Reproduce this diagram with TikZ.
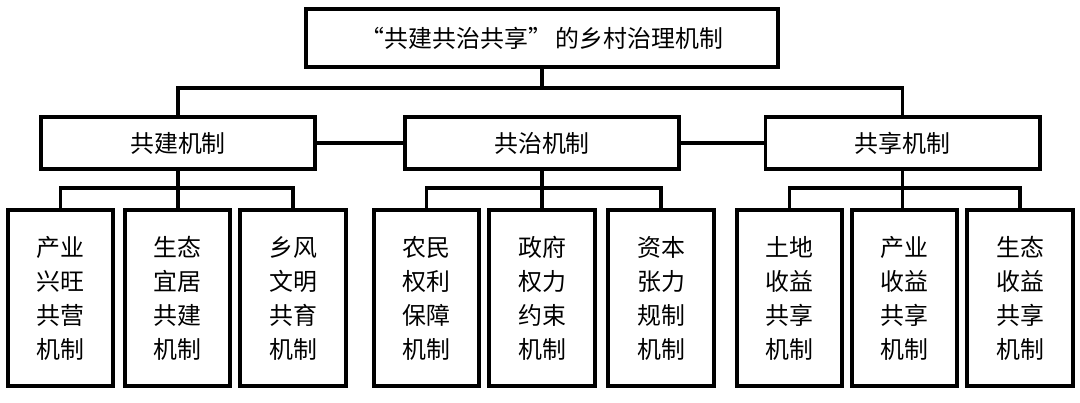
\documentclass[tikz,border=0pt]{standalone}
\usepackage{fontspec}
\newfontfamily\cjk{Noto Sans CJK SC}
\usetikzlibrary{positioning}

\tikzset{
  boxline/.style={draw, line width=2.8pt, inner sep=0pt, align=center,
    font=\cjk\fontsize{17}{24.2}\selectfont},
  topbox/.style={boxline, minimum width=11.8cm, minimum height=1.45cm},
  midbox/.style={boxline, minimum width=6.85cm, minimum height=1.3cm},
  leafbox/.style={boxline, minimum width=2.63cm, minimum height=4.4cm},
  link/.style={line width=2.6pt}
}

\begin{document}
\begin{tikzpicture}[x=0.025cm, y=-0.025cm]
\useasboundingbox (0,0) rectangle (1080,402);

% top level
\node[topbox] (root) at (542,38) {“共建共治共享”\,的乡村治理机制};

% second level
\node[midbox] (gj) at (178,143) {共建机制};
\node[midbox] (gz) at (542,143) {共治机制};
\node[midbox] (gx) at (902.5,143) {共享机制};

% leaves
\node[leafbox] (gj1) at (60.5,298) {产业\\兴旺\\共营\\机制};
\node[leafbox] (gj2) at (177.5,298) {生态\\宜居\\共建\\机制};
\node[leafbox] (gj3) at (293,298) {乡风\\文明\\共育\\机制};
\node[leafbox] (gz1) at (426.5,298) {农民\\权利\\保障\\机制};
\node[leafbox] (gz2) at (542,298) {政府\\权力\\约束\\机制};
\node[leafbox] (gz3) at (661,298) {资本\\张力\\规制\\机制};
\node[leafbox] (gx1) at (789.5,298) {土地\\收益\\共享\\机制};
\node[leafbox] (gx2) at (904.5,298) {产业\\收益\\共享\\机制};
\node[leafbox] (gx3) at (1020,298) {生态\\收益\\共享\\机制};

% bus lines
\coordinate (bus) at (542,88);
\coordinate (gjbus) at (178,188);
\coordinate (gzbus) at (542,188);
\coordinate (gxbus) at (904,188);

\draw[link] (root.south) -- (bus);
\draw[link] (gj.north) |- (bus) -| (gx.north);
\draw[link] (gj.east) -- (gz.west);
\draw[link] (gz.east) -- (gx.west);

\draw[link] (gj.south) -- (gj.south |- gj2.north);
\draw[link] (gj1.north) |- (gjbus) -| (gj3.north);
\draw[link] (gz.south) -- (gz.south |- gz2.north);
\draw[link] (gz1.north) |- (gzbus) -| (gz3.north);
\draw[link] (gx.south) -- (gx.south |- gx2.north);
\draw[link] (gx1.north) |- (gxbus) -| (gx3.north);
\end{tikzpicture}
\end{document}
